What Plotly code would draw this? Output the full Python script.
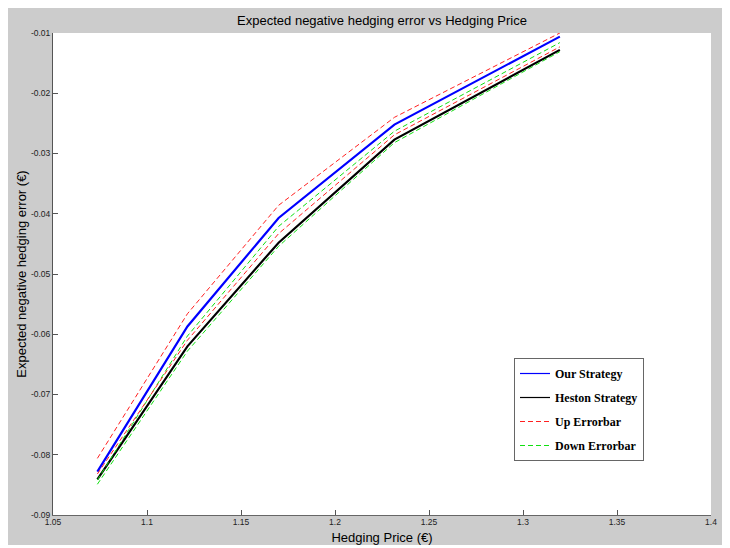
import plotly.graph_objects as go

# ---- data ----
hedging_price = [1.0736, 1.1215, 1.1700, 1.2316, 1.3196]

our_strategy = [-0.0828, -0.0587, -0.0407, -0.0252, -0.0106]
our_up = [-0.0806, -0.0566, -0.0386, -0.0240, -0.0100]
our_down = [-0.0842, -0.0603, -0.0421, -0.0263, -0.0116]

heston_strategy = [-0.0841, -0.0620, -0.0448, -0.0277, -0.0128]
heston_up = [-0.0832, -0.0610, -0.0433, -0.0269, -0.0123]
heston_down = [-0.0849, -0.0628, -0.0454, -0.0282, -0.0131]

x_ticks = [1.05, 1.1, 1.15, 1.2, 1.25, 1.3, 1.35, 1.4]
x_ticktext = ["1.05", "1.1", "1.15", "1.2", "1.25", "1.3", "1.35", "1.4"]
y_ticks = [-0.09, -0.08, -0.07, -0.06, -0.05, -0.04, -0.03, -0.02, -0.01]
y_ticktext = ["-0.09", "-0.08", "-0.07", "-0.06", "-0.05", "-0.04", "-0.03", "-0.02", "-0.01"]

BLUE = "#0000ff"
BLACK = "#000000"
RED = "#ff2020"
GREEN = "#10e010"
DASH = "5px,3px"

fig = go.Figure()
# plotted series (legend entries are added separately with thinner samples)
fig.add_trace(go.Scatter(x=hedging_price, y=our_strategy, mode="lines", name="Our Strategy",
                         showlegend=False, line=dict(color=BLUE, width=2.2)))
fig.add_trace(go.Scatter(x=hedging_price, y=heston_strategy, mode="lines", name="Heston Strategy",
                         showlegend=False, line=dict(color=BLACK, width=2.2)))
fig.add_trace(go.Scatter(x=hedging_price, y=our_up, mode="lines", name="Up Errorbar",
                         showlegend=False, line=dict(color=RED, width=1, dash=DASH)))
fig.add_trace(go.Scatter(x=hedging_price, y=our_down, mode="lines", name="Down Errorbar",
                         showlegend=False, line=dict(color=GREEN, width=1, dash=DASH)))
fig.add_trace(go.Scatter(x=hedging_price, y=heston_up, mode="lines", name="Up Errorbar",
                         showlegend=False, line=dict(color=RED, width=1, dash=DASH)))
fig.add_trace(go.Scatter(x=hedging_price, y=heston_down, mode="lines", name="Down Errorbar",
                         showlegend=False, line=dict(color=GREEN, width=1, dash=DASH)))

# legend entries
legend_items = [("Our Strategy", BLUE, "solid"), ("Heston Strategy", BLACK, "solid"),
                ("Up Errorbar", RED, DASH), ("Down Errorbar", GREEN, DASH)]
for i, (nm, col, dsh) in enumerate(legend_items):
    fig.add_trace(go.Scatter(x=[None], y=[None], mode="lines", name=nm,
                             legendgroup=f"g{i}", showlegend=True,
                             line=dict(color=col, width=1.2, dash=dsh)))

# The page has an 8px body margin, so figure coordinates = screen - 8.
OFF = 8
W, H = 718, 537
plot_left, plot_right, plot_top, plot_bottom = 53 - OFF, 711 - OFF, 33 - OFF, 515 - OFF
L, R, T, B = plot_left, W - plot_right, plot_top, H - plot_bottom
pw, ph = plot_right - plot_left, plot_bottom - plot_top

def px_x(p):
    return (p - OFF - plot_left) / pw

def px_y(p):
    return (plot_bottom - (p - OFF)) / ph

sans = "Liberation Sans, Arial, sans-serif"

fig.update_layout(
    width=W, height=H,
    margin=dict(l=L, r=R, t=T, b=B, autoexpand=False),
    paper_bgcolor="#cccccc",
    plot_bgcolor="white",
    font=dict(family=sans, color="#000"),
    title=dict(text="Expected negative hedging error vs Hedging Price",
               x=0.5, xref="paper", xanchor="center",
               y=1 - (20 - OFF) / H, yref="container", yanchor="middle",
               font=dict(size=13, family=sans, color="#000")),
    xaxis=dict(range=[1.05, 1.4], tickvals=x_ticks, ticktext=x_ticktext,
               ticks="inside", ticklen=5, tickcolor="#555", showgrid=False, zeroline=False,
               showline=True, linecolor="#666", linewidth=1,
               ticklabelstandoff=-1,
               tickfont=dict(size=8.5, family=sans, color="#222"),
               title=dict(text="Hedging Price (€)", standoff=8,
                          font=dict(size=13, family=sans, color="#000"))),
    yaxis=dict(range=[-0.09, -0.01], tickvals=y_ticks, ticktext=y_ticktext,
               ticks="inside", ticklen=5, tickcolor="#555", showgrid=False, zeroline=False,
               showline=True, linecolor="#555", linewidth=1,
               tickfont=dict(size=8.5, family=sans, color="#222"),
               title=dict(text="Expected negative hedging error (€)", standoff=1,
                          font=dict(size=13, family=sans, color="#000"))),
    legend=dict(x=px_x(514), y=px_y(358), xanchor="left", yanchor="top",
                bgcolor="white", bordercolor="#666", borderwidth=1,
                tracegroupgap=5, itemwidth=30,
                font=dict(size=12, family="Liberation Serif, Times New Roman, serif",
                          color="#000", weight="bold")),
    showlegend=True,
)

fig.write_html("out.html")
